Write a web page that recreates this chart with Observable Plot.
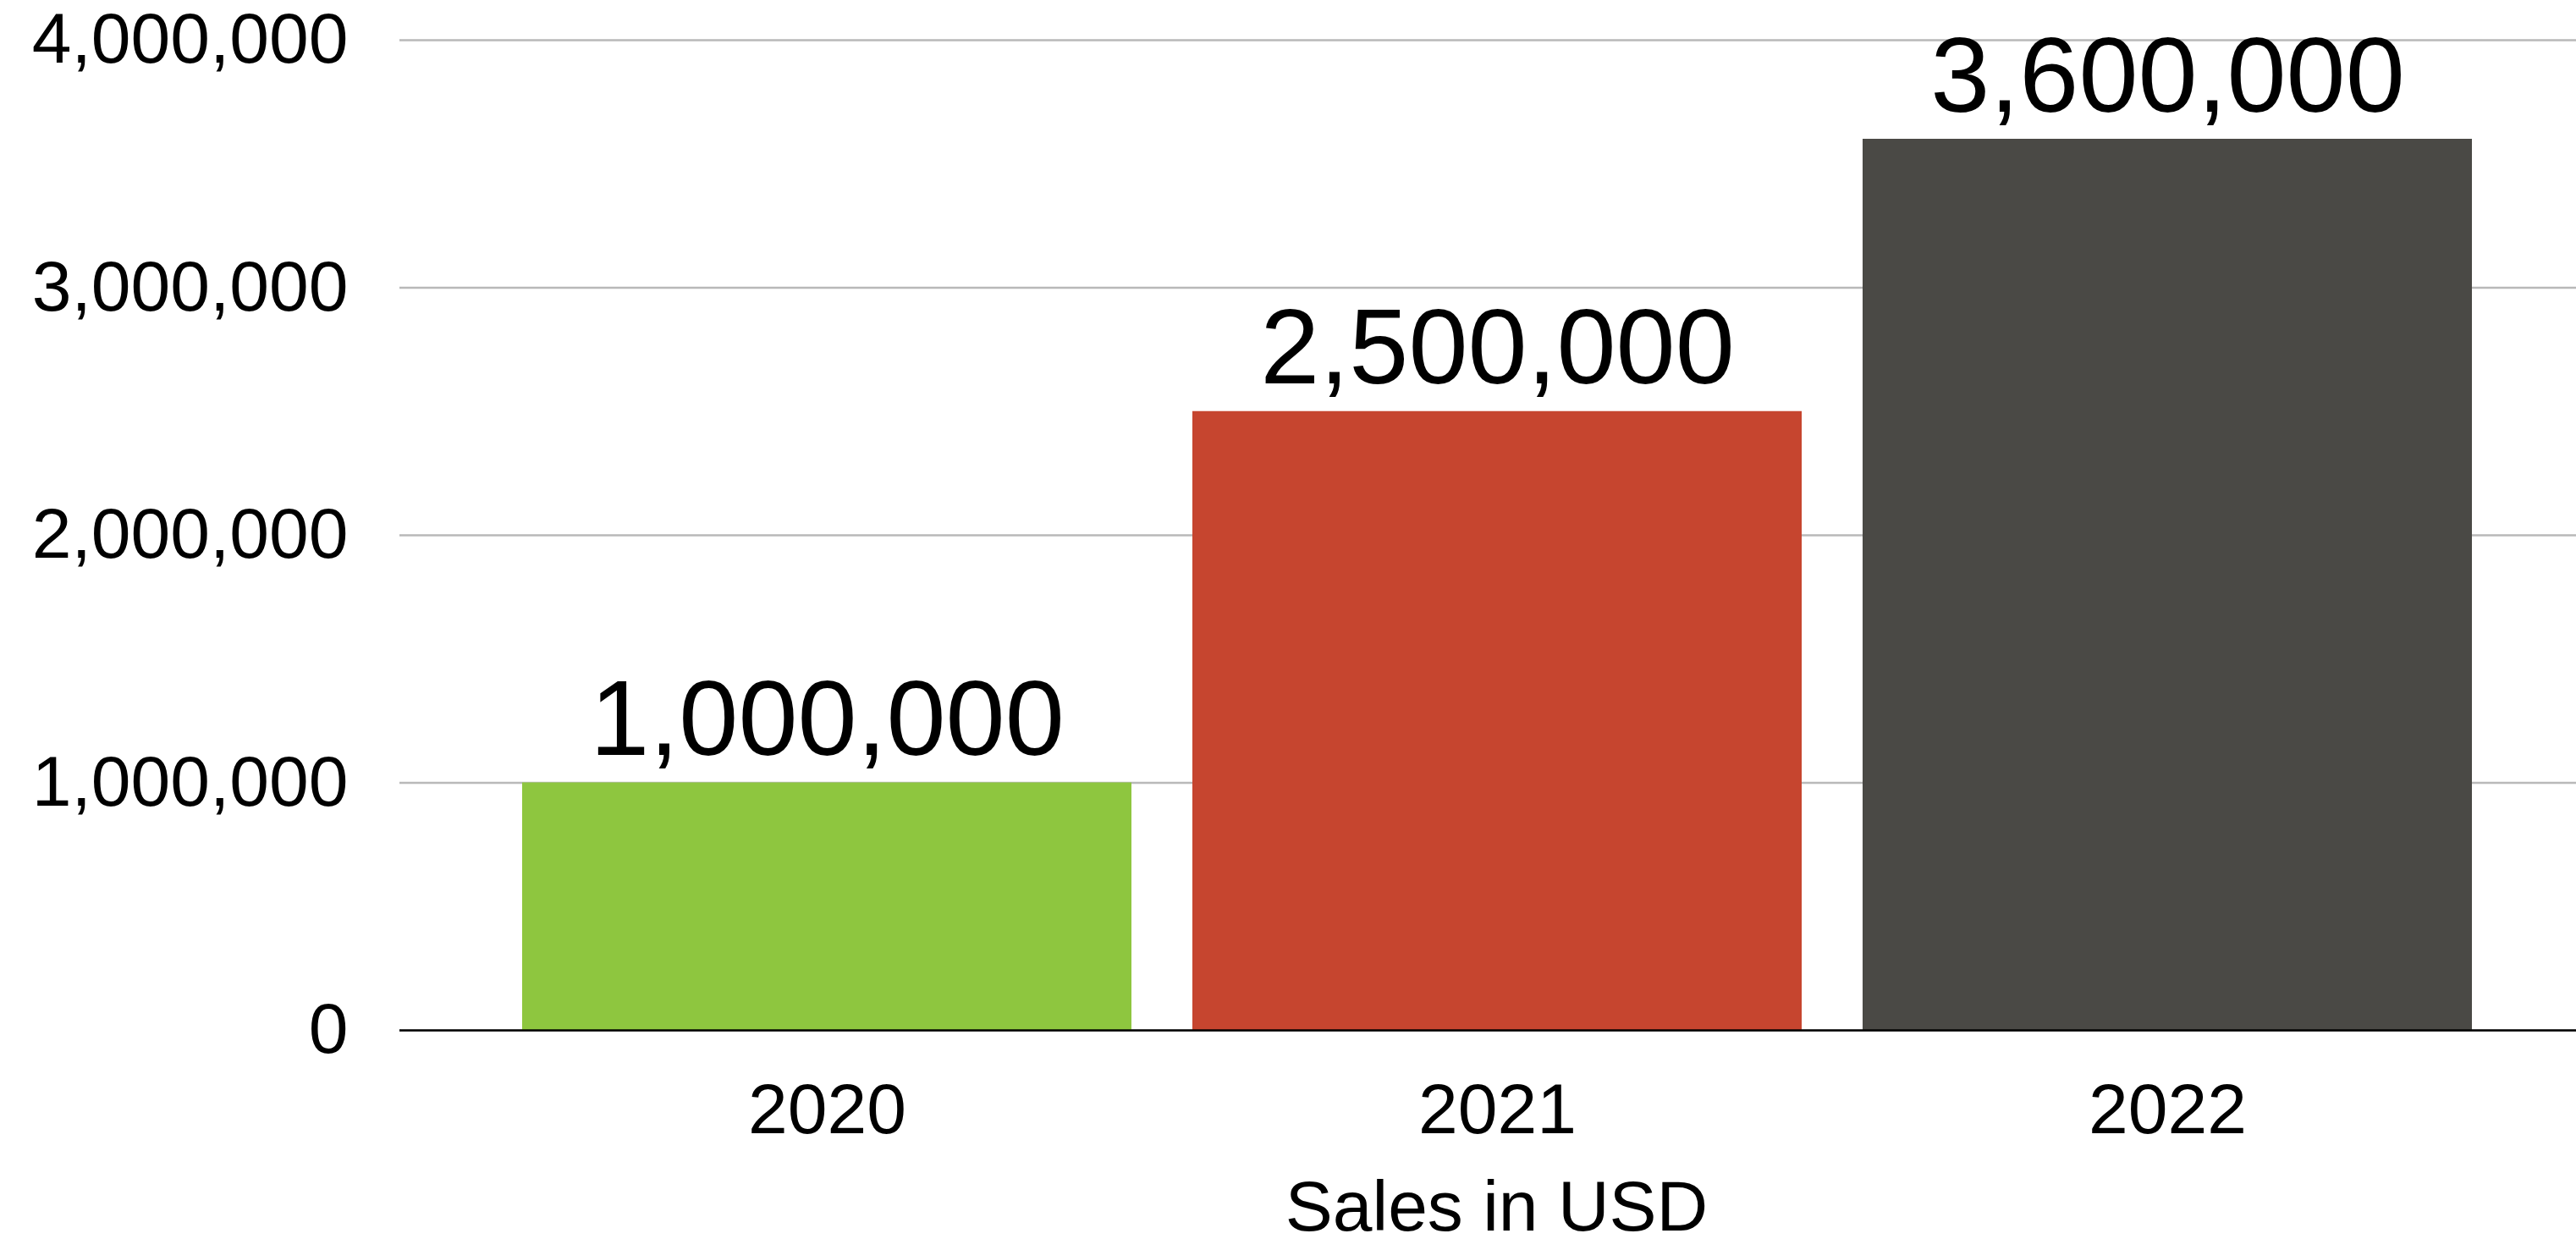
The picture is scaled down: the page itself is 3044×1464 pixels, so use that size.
<!DOCTYPE html>
<html><head><meta charset="utf-8">
<script src="https://cdn.jsdelivr.net/npm/d3@7"></script>
<script src="https://cdn.jsdelivr.net/npm/@observablehq/plot@0.6"></script>
<style>html,body{margin:0;padding:0;background:#fff;}</style>
</head><body><div id="chart"></div>
<script>
const years = ["2020", "2021", "2022"];
const sales = [1000000, 2500000, 3600000];
const barColors = ["#8EC63F", "#C6452F", "#4A4945"];
const yTicks = [0, 1000000, 2000000, 3000000, 4000000];
const xLabel = "Sales in USD";

const data = years.map((year, i) => ({year, sales: sales[i]}));
const fmt = d3.format(",");
const font = "'Liberation Sans', Arial, Helvetica, sans-serif";

const chart = Plot.plot({
  width: 3044,
  height: 1464,
  marginLeft: 472,
  marginRight: 0,
  marginTop: 47,
  marginBottom: 247,
  style: {fontFamily: font, fontSize: "84px", color: "#000", background: "#fff"},
  x: {domain: years, range: [472, 3066], paddingInner: 0.0909, paddingOuter: 0.183, label: null},
  y: {domain: [0, 4000000], label: null},
  color: {domain: years, range: barColors},
  marks: [
    Plot.gridY(yTicks, {stroke: "#B9B9B9", strokeOpacity: 1, strokeWidth: 2.5}),
    Plot.barY(data, {x: "year", y: "sales", fill: "year"}),
    Plot.ruleY([0], {stroke: "#000", strokeWidth: 2.5}),
    Plot.axisY({ticks: yTicks, tickFormat: fmt, tickSize: 0, tickPadding: 61, fontSize: 84, label: null}),
    Plot.axisX({tickSize: 0, tickPadding: 62, fontSize: 84, label: null}),
    Plot.text([xLabel], {frameAnchor: "bottom", lineAnchor: "bottom", dy: 236, dx: 10, fontSize: 84, fill: "#000"}),
    Plot.text(data, {x: "year", y: "sales", text: d => fmt(d.sales), lineAnchor: "bottom", dy: -33, fontSize: 126, fill: "#000"})
  ]
});
document.getElementById("chart").appendChild(chart);
</script>
</body></html>
